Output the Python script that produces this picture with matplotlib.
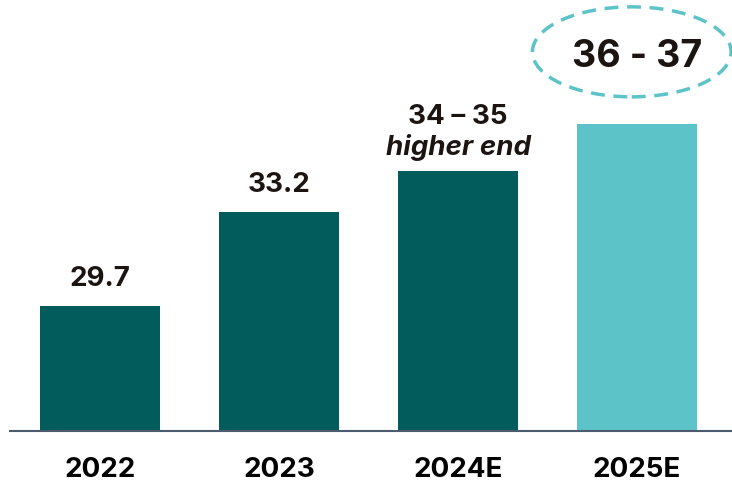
import matplotlib.pyplot as plt
from matplotlib.patches import Ellipse

# Values by year; the 2024E bar shows the higher end of the 34-35 range,
# the 2025E bar the middle of the 36-37 range.
years = ["2022", "2023", "2024E", "2025E"]
values = [29.7, 33.2, 34.75, 36.5]
labels = ["29.7", "33.2", "34 \u2013 35", None]
range_2025 = "36 - 37"

DARK = "#025c5c"
LIGHT = "#5cc4c9"
TEXT = "#1b1410"

plt.rcParams["font.family"] = ["Inter", "DejaVu Sans"]

fig = plt.figure(figsize=(7.32, 4.82), dpi=100)
ax = fig.add_axes([10 / 732, 51 / 482, 722 / 732, 431 / 482])

x = list(range(len(years)))
colors = [DARK, DARK, DARK, LIGHT]
ax.bar(x, [v - 25 for v in values], bottom=25, width=0.67, color=colors, zorder=2)

ax.set_xlim(-0.503, 3.53)
ax.set_ylim(25, 25 + 431 / 26.7)

for xi, v, lab in zip(x, values, labels):
    if lab is None:
        continue
    offset = 1.0 if xi < 2 else 2.02
    ax.text(xi, v + offset, lab, ha="center", va="center",
            fontsize=20, fontweight="bold", color=TEXT)

ax.text(2, values[2] + 0.85, "higher end", ha="center", va="center",
        fontsize=20, fontweight="bold", fontstyle="italic", color=TEXT)

# Range callout for the 2025 estimate
ax.text(3.0, values[3] + 2.5, range_2025, ha="center", va="center",
        fontsize=27, fontweight="bold", color=TEXT)
ax.add_patch(Ellipse((2.97, values[3] + 2.7), width=1.11, height=90 / 26.7,
                     fill=False, edgecolor=LIGHT, linewidth=2.5,
                     linestyle=(0, (4, 2.5)), clip_on=False))

ax.set_xticks(x)
ax.set_xticklabels(years, fontsize=20, fontweight="bold", color="black")
ax.tick_params(axis="x", length=0, pad=19)
ax.set_yticks([])
for side in ["top", "right", "left"]:
    ax.spines[side].set_visible(False)
ax.spines["bottom"].set_color("#4d5b70")
ax.spines["bottom"].set_linewidth(1.5)
ax.spines["bottom"].set_zorder(3)

fig.savefig("out.png", dpi=100)
